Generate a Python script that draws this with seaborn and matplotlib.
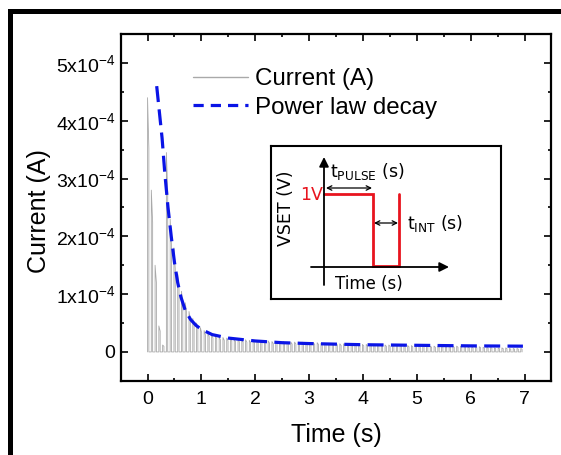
import numpy as np
import pandas as pd
import matplotlib
matplotlib.use("Agg")
import matplotlib.pyplot as plt
from matplotlib.lines import Line2D
from matplotlib.patches import Rectangle
import seaborn as sns

# ---------------- data ----------------
pulse_period = 0.07          # s between current pulses
# peak current of each pulse (units of 1e-4 A)
current_peaks = [
    4.40, 2.80, 1.50, 0.45, 0.12,
    3.45, 2.30, 1.80, 1.35, 1.05,
    0.85, 0.70, 0.58, 0.50, 0.42,
    0.37, 0.33, 0.30, 0.28, 0.26,
    0.25, 0.24, 0.23, 0.22, 0.22,
    0.21, 0.21, 0.20, 0.20, 0.20,
    0.19, 0.19, 0.19, 0.18, 0.18,
    0.18, 0.18, 0.17, 0.17, 0.17,
    0.17, 0.17, 0.16, 0.16, 0.16,
    0.16, 0.15, 0.15, 0.15, 0.15,
    0.15, 0.14, 0.14, 0.14, 0.14,
    0.14, 0.13, 0.13, 0.13, 0.13,
    0.13, 0.13, 0.12, 0.12, 0.12,
    0.12, 0.12, 0.12, 0.11, 0.11,
    0.11, 0.11, 0.11, 0.11, 0.11,
    0.10, 0.10, 0.10, 0.10, 0.10,
    0.10, 0.10, 0.10, 0.10, 0.10,
    0.09, 0.09, 0.09, 0.09, 0.08,
    0.08, 0.08, 0.07, 0.07, 0.07,
    0.07, 0.06, 0.06, 0.06, 0.06,
]
# power-law decay fit (time s, current 1e-4 A)
fit_time = [0.17, 0.22, 0.27, 0.32, 0.38, 0.44, 0.50, 0.56, 0.62, 0.70,
            0.80, 0.90, 1.00, 1.20, 1.50, 2.00, 2.50, 3.00, 4.00, 5.00,
            6.00, 6.97]
fit_current = [4.60, 4.15, 3.70, 3.10, 2.50, 2.00, 1.55, 1.20, 0.95, 0.72,
               0.56, 0.46, 0.39, 0.30, 0.24, 0.19, 0.16, 0.145, 0.125, 0.115,
               0.105, 0.10]

x_ticks = [0, 1, 2, 3, 4, 5, 6, 7]
y_ticks = [0, 1e-4, 2e-4, 3e-4, 4e-4, 5e-4]
y_tick_labels = ["0", "1x10$^{-4}$", "2x10$^{-4}$", "3x10$^{-4}$",
                 "4x10$^{-4}$", "5x10$^{-4}$"]

# ---------------- build pulse waveform ----------------
tt, ii = [], []
for k, p in enumerate(current_peaks):
    t0 = k * pulse_period
    w = 0.35 * pulse_period
    val = p * 1e-4
    tt += [t0, t0, t0 + w, t0 + w]
    ii += [0.0, val, 0.8 * val, 0.0]
trace = pd.DataFrame({"t": tt, "i": ii})
fit_df = pd.DataFrame({"t": fit_time, "i": np.array(fit_current) * 1e-4})

# ---------------- style ----------------
sns.set_theme(style="ticks")
plt.rcParams["font.family"] = ["Liberation Sans", "DejaVu Sans"]
plt.rcParams["mathtext.fontset"] = "custom"
plt.rcParams["mathtext.rm"] = "Liberation Sans"
plt.rcParams["mathtext.default"] = "regular"
plt.rcParams["text.color"] = "black"
plt.rcParams["axes.labelcolor"] = "black"
plt.rcParams["xtick.color"] = "black"
plt.rcParams["ytick.color"] = "black"

fig = plt.figure(figsize=(5.61, 4.55), dpi=100)
fig.patch.set_facecolor("white")
ax = fig.add_axes([0.215, 0.163, 0.768, 0.762])

sns.lineplot(data=trace, x="t", y="i", sort=False, estimator=None,
             color="#a9a9a9", lw=0.6, ax=ax)
sns.lineplot(data=fit_df, x="t", y="i", sort=False, estimator=None,
             color="#0a14e6", lw=2.3, ax=ax)
ax.lines[-1].set_dashes((5.0, 2.3))

ax.set_xlim(-0.5, 7.5)
ax.set_ylim(-0.5e-4, 5.5e-4)
ax.set_xticks(x_ticks)
ax.set_xticklabels([str(v) for v in x_ticks])
ax.set_yticks(y_ticks)
ax.set_yticklabels(y_tick_labels)
ax.set_xticks(np.arange(-0.5, 7.51, 0.5), minor=True)
ax.set_yticks(np.arange(-0.5e-4, 5.51e-4, 0.5e-4), minor=True)
ax.tick_params(which="both", direction="in", top=True, right=True,
               width=1.2, color="black")
ax.tick_params(which="major", length=5, labelsize=14, pad=7)
ax.tick_params(which="minor", length=2.5)
ax.tick_params(axis="y", which="major", pad=4)
for s in ax.spines.values():
    s.set_linewidth(1.6)
    s.set_color("black")

ax.set_xlabel("Time (s)", fontsize=18, color="black")
ax.set_ylabel("Current (A)", fontsize=18, color="black")
ax.xaxis.set_label_coords(0.5, -0.122)
ax.yaxis.set_label_coords(-0.162, 0.49)

handles = [Line2D([], [], color="#a9a9a9", lw=1.0),
           Line2D([], [], color="#0a14e6", lw=2.3, dashes=(3.2, 2.2))]
ax.legend(handles, ["Current (A)", "Power law decay"], loc="upper left",
          bbox_to_anchor=(0.168, 0.902), frameon=False, fontsize=17.4,
          handlelength=2.27, handletextpad=0.3, labelspacing=0.27,
          borderpad=0, borderaxespad=0)

# ---------------- inset schematic (pixel coordinates of the image) ----------------
ins = fig.add_axes([271 / 561, 1 - 299 / 455, 230 / 561, 153 / 455])
ins.set_xlim(271, 501)
ins.set_ylim(299, 146)
ins.set_xticks([])
ins.set_yticks([])
for s in ins.spines.values():
    s.set_linewidth(1.5)
    s.set_color("black")
ins.set_facecolor("white")
ifont = ["DejaVu Sans"]
arr = dict(arrowstyle="-|>", color="black", lw=1.3, mutation_scale=14,
           shrinkA=0, shrinkB=0)
ins.annotate("", xy=(324, 157), xytext=(324, 285), arrowprops=arr)
ins.annotate("", xy=(449, 267), xytext=(311, 267), arrowprops=arr)
ins.plot([324, 373, 373, 399, 399], [194, 194, 266, 266, 194],
         color="#e8141e", lw=2.0, solid_joinstyle="miter")
darr = dict(arrowstyle="<->", color="black", lw=0.9, mutation_scale=8,
            shrinkA=0, shrinkB=0)
ins.annotate("", xy=(372, 188), xytext=(326, 188), arrowprops=darr)
ins.annotate("", xy=(398, 223), xytext=(374, 223), arrowprops=darr)
ins.text(330, 171, "t$_{\\mathregular{PULSE}}$ (s)", fontsize=12.5,
         family=ifont, va="center", ha="left", math_fontfamily="dejavusans")
ins.text(407, 224, "t$_{\\mathregular{INT}}$ (s)", fontsize=12.5,
         family=ifont, va="center", ha="left", math_fontfamily="dejavusans")
ins.text(323, 195, "1V", fontsize=12.5, color="#e8141e", family=ifont,
         va="center", ha="right")
ins.text(286, 208, "VSET (V)", fontsize=12.5, family=ifont, rotation=90,
         va="center", ha="center")
ins.text(369, 284, "Time (s)", fontsize=12, family=ifont,
         va="center", ha="center")

# ---------------- outer frame: thick black bars along top and left ----------------
W, H = 561.0, 455.0
bar = 5.0
x0, y0 = 8.0, 9.0
fig.patches.append(Rectangle((x0 / W, 1 - (y0 + bar) / H), (W - x0) / W, bar / H,
                             transform=fig.transFigure, facecolor="black",
                             edgecolor="none", lw=0))
fig.patches.append(Rectangle((x0 / W, 0.0), bar / W, 1 - y0 / H,
                             transform=fig.transFigure, facecolor="black",
                             edgecolor="none", lw=0))

fig.savefig("out.png", dpi=100, facecolor="white")
